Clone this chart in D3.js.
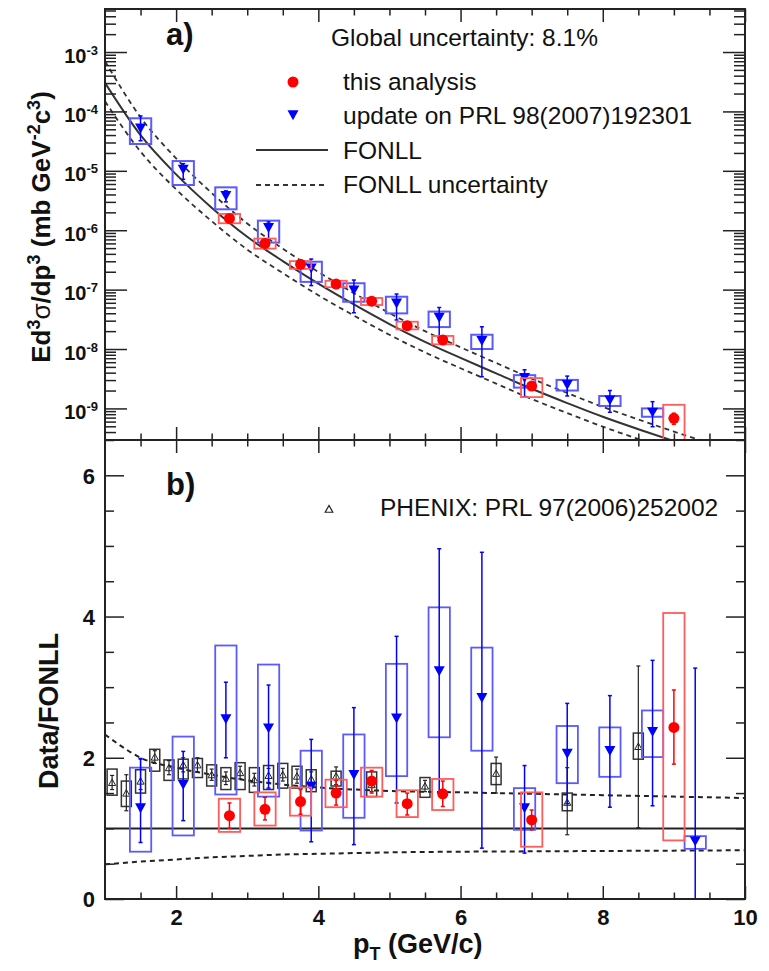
<!DOCTYPE html>
<html>
<head>
<meta charset="utf-8">
<script src="https://cdnjs.cloudflare.com/ajax/libs/d3/7.8.5/d3.min.js"></script>
<style>
	body { margin: 0; background: #fff; }
	svg { display: block; font-family: "Liberation Sans", Arial, Helvetica, sans-serif; }
</style>
</head>
<body>
<svg id="chart" width="769" height="971"></svg>
<script>

//=================== DATA ====================================
// FONLL curve, panel a)
var fonllPt      = [1, 1.5, 2, 2.5, 3, 3.5, 4, 4.5, 5, 5.5, 6, 6.5, 7, 7.5, 8, 8.5, 9, 9.5, 10];
var fonllCentral = [3.02e-4, 3.98e-5, 8.71e-6, 2.40e-6, 7.76e-7, 3.02e-7, 1.26e-7, 5.62e-8, 2.63e-8, 1.32e-8,
                    7.08e-9, 3.89e-9, 2.14e-9, 1.23e-9, 7.24e-10, 4.47e-10, 2.82e-10, 1.82e-10, 1.20e-10];
var fonllUpper   = [7.03e-4, 7.96e-5, 1.62e-5, 4.23e-6, 1.30e-6, 4.90e-7, 1.99e-7, 8.71e-8, 4.03e-8, 2.00e-8,
                    1.07e-8, 5.83e-9, 3.18e-9, 1.82e-9, 1.06e-9, 6.52e-10, 4.08e-10, 2.62e-10, 1.72e-10];
var fonllLower   = [1.48e-4, 2.11e-5, 4.88e-6, 1.42e-6, 4.73e-7, 1.90e-7, 8.05e-8, 3.66e-8, 1.74e-8, 8.77e-9,
                    4.74e-9, 2.62e-9, 1.44e-9, 8.34e-10, 4.93e-10, 3.05e-10, 1.93e-10, 1.25e-10, 8.2e-11];

// FONLL uncertainty band divided by FONLL, panel b)
var ratioPt    = [1, 1.25, 1.5, 2, 2.5, 3, 3.5, 4, 5, 6, 7, 8, 9, 10];
var ratioUpper = [2.33, 2.15, 2.0, 1.86, 1.76, 1.68, 1.62, 1.58, 1.53, 1.51, 1.49, 1.47, 1.45, 1.43];
var ratioLower = [0.49, 0.51, 0.53, 0.56, 0.59, 0.61, 0.63, 0.64, 0.66, 0.67, 0.675, 0.68, 0.685, 0.69];

// this analysis (red)
var redPt       = [2.75, 3.25, 3.75, 4.25, 4.75, 5.25, 5.75, 7.0, 9.0];
var redVal      = [1.58e-6, 6.0e-7, 2.67e-7, 1.24e-7, 6.4e-8, 2.47e-8, 1.42e-8, 2.38e-9, 6.8e-10];
var redSysLo    = [1.31e-6, 4.9e-7, 2.24e-7, 1.10e-7, 5.5e-8, 2.14e-8, 1.20e-8, 1.55e-9, 2.3e-10];
var redSysHi    = [1.88e-6, 7.24e-7, 3.02e-7, 1.41e-7, 7.24e-8, 2.88e-8, 1.66e-8, 3.24e-9, 1.15e-9];
var redStatLo   = [1.34e-6, 5.3e-7, 2.32e-7, 1.10e-7, 5.8e-8, 2.17e-8, 1.25e-8, 2.08e-9, 5.4e-10];
var redStatHi   = [1.82e-6, 6.8e-7, 2.99e-7, 1.39e-7, 7.0e-8, 2.74e-8, 1.59e-8, 2.68e-9, 8.3e-10];
var redRatio       = [1.18, 1.27, 1.38, 1.50, 1.67, 1.35, 1.49, 1.12, 2.43];
var redRatioSysLo  = [0.95, 1.04, 1.18, 1.30, 1.45, 1.16, 1.26, 0.74, 0.83];
var redRatioSysHi  = [1.42, 1.51, 1.58, 1.69, 1.86, 1.54, 1.70, 1.51, 4.05];
var redRatioStatLo = [1.00, 1.12, 1.20, 1.33, 1.50, 1.19, 1.31, 0.98, 1.91];
var redRatioStatHi = [1.36, 1.44, 1.55, 1.68, 1.82, 1.50, 1.67, 1.26, 2.96];

// update on PRL 98(2007)192301 (blue)
var bluePt      = [1.5, 2.1, 2.7, 3.3, 3.9, 4.5, 5.1, 5.7, 6.3, 6.9, 7.5, 8.1, 8.7];
var blueVal     = [5.2e-5, 1.06e-5, 3.8e-6, 1.1e-6, 2.3e-7, 9.8e-8, 5.9e-8, 3.4e-8, 1.38e-8, 3.3e-9, 2.5e-9, 1.38e-9, 8.6e-10];
var blueSysLo   = [2.83e-5, 5.77e-6, 2.25e-6, 6.2e-7, 1.35e-7, 6.25e-8, 3.98e-8, 2.34e-8, 1.0e-8, 2.24e-9, 2.0e-9, 1.10e-9, 7.24e-10];
var blueSysHi   = [7.66e-5, 1.46e-5, 5.27e-6, 1.45e-6, 2.95e-7, 1.28e-7, 7.59e-8, 4.27e-8, 1.74e-8, 3.63e-9, 3.02e-9, 1.62e-9, 1.0e-9];
var blueStatLo  = [3.21e-5, 7.2e-6, 3.0e-6, 7.1e-7, 1.17e-7, 4.08e-8, 3.08e-8, 1.57e-8, 3.41e-9, 1.55e-9, 1.62e-9, 8.6e-10, 4.92e-10];
var blueStatHi  = [8.38e-5, 1.32e-5, 4.6e-6, 1.38e-6, 3.27e-7, 1.45e-7, 8.43e-8, 5.0e-8, 2.37e-8, 4.47e-9, 3.5e-9, 2.0e-9, 1.30e-9];
var blueRatioPt     = [1.5, 2.1, 2.7, 3.3, 3.9, 4.5, 5.1, 5.7, 6.3, 6.9, 7.5, 8.1, 8.7, 9.3];
var blueRatio       = [1.29, 1.62, 2.55, 2.42, 1.59, 1.76, 2.56, 3.23, 2.85, 1.29, 2.06, 2.10, 2.37, 0.82];
var blueRatioSysLo  = [0.67, 0.90, 1.48, 1.45, 0.97, 1.15, 1.74, 2.29, 2.10, 0.98, 1.64, 1.73, 2.01, 0.71];
var blueRatioSysHi  = [1.86, 2.30, 3.59, 3.32, 2.10, 2.33, 3.33, 4.13, 3.56, 1.57, 2.45, 2.43, 2.67, 0.89];
var blueRatioStatLo = [0.80, 1.11, 2.00, 1.57, 0.81, 0.77, 1.36, 1.50, 0.72, 0.65, 1.35, 1.30, 1.32, -1.6];
var blueRatioStatHi = [1.99, 2.09, 3.07, 3.03, 2.26, 2.71, 3.72, 4.96, 4.91, 1.89, 2.77, 2.88, 3.38, 3.27];

// PHENIX: PRL 97(2006)252002 (black, ratio only)
var phenixPt     = [1.1, 1.3, 1.5, 1.7, 1.9, 2.1, 2.3, 2.5, 2.7, 2.9, 3.1, 3.3, 3.5, 3.7, 3.9, 4.25, 4.75, 5.5, 6.5, 7.5, 8.5];
var phenixVal    = [1.65, 1.50, 1.67, 2.01, 1.86, 1.90, 1.90, 1.76, 1.71, 1.79, 1.69, 1.75, 1.76, 1.74, 1.70, 1.74, 1.62, 1.60, 1.78, 1.37, 2.16];
var phenixSysLo  = [1.47, 1.31, 1.50, 1.81, 1.68, 1.70, 1.72, 1.60, 1.55, 1.55, 1.51, 1.55, 1.57, 1.57, 1.52, 1.60, 1.45, 1.44, 1.62, 1.25, 1.98];
var phenixSysHi  = [1.84, 1.67, 1.83, 2.12, 1.97, 1.98, 1.99, 1.90, 1.86, 1.93, 1.86, 1.89, 1.92, 1.88, 1.83, 1.81, 1.80, 1.72, 1.92, 1.50, 2.35];
var phenixStatLo = [1.55, 1.25, 1.55, 1.92, 1.76, 1.80, 1.80, 1.68, 1.62, 1.70, 1.60, 1.65, 1.67, 1.64, 1.60, 1.62, 1.52, 1.52, 1.50, 0.91, 1.01];
var phenixStatHi = [1.75, 1.76, 1.98, 2.10, 1.96, 2.00, 2.00, 1.84, 1.80, 1.88, 1.78, 1.85, 1.85, 1.84, 1.80, 1.87, 1.72, 1.68, 2.01, 1.86, 3.30];

// axis ticks
var xMajorTicks = [2, 4, 6, 8, 10];
var yRatioMajorTicks = [0, 2, 4, 6];
var logDecades = [1e-3, 1e-4, 1e-5, 1e-6, 1e-7, 1e-8, 1e-9];

//=================== LAYOUT ====================================
var plotLeft = 105, plotRight = 745;
var topPanel = { top: 9, bottom: 440 };
var botPanel = { top: 440, bottom: 899 };

var blueColour = "#0000ff", blueBox = "#5a5aff";
var redColour = "#ff0000", redBox = "#ff5c5c";
var frameColour = "#222";

var svg = d3.select("#chart");

var x = d3.scaleLinear().domain([1, 10]).range([plotLeft, plotRight]);
var yTop = d3.scaleLog().domain([2.94e-10, 5.3e-3]).range([topPanel.bottom, topPanel.top]);
var yBot = d3.scaleLinear().domain([0, 6.5]).range([botPanel.bottom, botPanel.top]);

var defs = svg.append("defs");
defs.append("clipPath").attr("id", "clipTop").append("rect")
	.attr("x", plotLeft).attr("y", topPanel.top)
	.attr("width", plotRight - plotLeft).attr("height", topPanel.bottom - topPanel.top);
defs.append("clipPath").attr("id", "clipBot").append("rect")
	.attr("x", plotLeft).attr("y", botPanel.top)
	.attr("width", plotRight - plotLeft).attr("height", botPanel.bottom - botPanel.top);

//=================== HELPERS ====================================
function rows(pt, val, sLo, sHi, eLo, eHi) {
	return pt.map(function (p, i) {
		return { pt: p, val: val[i], sysLo: sLo[i], sysHi: sHi[i], statLo: eLo[i], statHi: eHi[i] };
	});
}

function triDown(cx, cy, s) {
	return "M" + (cx - s) + "," + (cy - s * 0.85) + "L" + (cx + s) + "," + (cy - s * 0.85) +
		"L" + cx + "," + (cy + s * 0.95) + "Z";
}
function triUp(cx, cy, s) {
	return "M" + (cx - s) + "," + (cy + s * 0.85) + "L" + (cx + s) + "," + (cy + s * 0.85) +
		"L" + cx + "," + (cy - s * 0.95) + "Z";
}

function drawBoxes(g, data, yScale, halfWidth, colour, width) {
	g.selectAll(null)
		.data(data)
		.enter()
		.append("rect")
		.attr("x", function (d) { return x(d.pt - halfWidth); })
		.attr("width", function (d) { return x(d.pt + halfWidth) - x(d.pt - halfWidth); })
		.attr("y", function (d) { return yScale(d.sysHi); })
		.attr("height", function (d) { return yScale(d.sysLo) - yScale(d.sysHi); })
		.attr("fill", "none")
		.attr("stroke", colour)
		.attr("stroke-width", width);
}

function drawErrors(g, data, yScale, colour, width) {
	var sel = g.selectAll(null).data(data).enter().append("g");
	sel.append("line")
		.attr("x1", function (d) { return x(d.pt); })
		.attr("x2", function (d) { return x(d.pt); })
		.attr("y1", function (d) { return yScale(d.statLo); })
		.attr("y2", function (d) { return yScale(d.statHi); });
	sel.append("line")
		.attr("x1", function (d) { return x(d.pt) - 2; })
		.attr("x2", function (d) { return x(d.pt) + 2; })
		.attr("y1", function (d) { return yScale(d.statLo); })
		.attr("y2", function (d) { return yScale(d.statLo); });
	sel.append("line")
		.attr("x1", function (d) { return x(d.pt) - 2; })
		.attr("x2", function (d) { return x(d.pt) + 2; })
		.attr("y1", function (d) { return yScale(d.statHi); })
		.attr("y2", function (d) { return yScale(d.statHi); });
	sel.selectAll("line").attr("stroke", colour).attr("stroke-width", width);
}

function drawCircles(g, data, yScale) {
	g.selectAll(null)
		.data(data)
		.enter()
		.append("circle")
		.attr("cx", function (d) { return x(d.pt); })
		.attr("cy", function (d) { return yScale(d.val); })
		.attr("r", 5.5)
		.attr("fill", redColour);
}

function drawTriangles(g, data, yScale) {
	g.selectAll(null)
		.data(data)
		.enter()
		.append("path")
		.attr("d", function (d) { return triDown(x(d.pt), yScale(d.val), 5.5); })
		.attr("fill", blueColour);
}

function tickAxis(g, axisFn, scale, values, size, labelled) {
	var ax = axisFn(scale).tickValues(values).tickSizeInner(-size).tickSizeOuter(0).tickPadding(8);
	if (!labelled) ax.tickFormat("");
	else ax.tickFormat(d3.format("d"));
	g.call(ax);
	g.select(".domain").remove();
	g.selectAll(".tick line").attr("stroke", frameColour).attr("stroke-width", 1.5);
	g.selectAll(".tick text")
		.attr("fill", "#111")
		.attr("font-family", "Liberation Sans, Arial, sans-serif")
		.attr("font-weight", "bold");
	return g;
}

function minorLinear(lo, hi, step, majors) {
	return d3.range(lo, hi + 1e-9, step).filter(function (v) {
		return majors.indexOf(Math.round(v * 100) / 100) < 0;
	});
}

//=================== PANEL a) ====================================
var gTop = svg.append("g").attr("class", "panelTop");
var gTopData = gTop.append("g").attr("clip-path", "url(#clipTop)");

var curveLine = d3.line()
	.x(function (d) { return x(d[0]); })
	.y(function (d) { return yTop(d[1]); })
	.curve(d3.curveMonotoneX);

gTopData.append("path")
	.datum(fonllPt.map(function (p, i) { return [p, fonllUpper[i]]; }))
	.attr("d", curveLine)
	.attr("fill", "none").attr("stroke", "#333").attr("stroke-width", 1.8).attr("stroke-dasharray", "5,4");
gTopData.append("path")
	.datum(fonllPt.map(function (p, i) { return [p, fonllLower[i]]; }))
	.attr("d", curveLine)
	.attr("fill", "none").attr("stroke", "#333").attr("stroke-width", 1.8).attr("stroke-dasharray", "5,4");
gTopData.append("path")
	.datum(fonllPt.map(function (p, i) { return [p, fonllCentral[i]]; }))
	.attr("d", curveLine)
	.attr("fill", "none").attr("stroke", "#333").attr("stroke-width", 2);

var blueTop = rows(bluePt, blueVal, blueSysLo, blueSysHi, blueStatLo, blueStatHi);
var redTop = rows(redPt, redVal, redSysLo, redSysHi, redStatLo, redStatHi);

drawBoxes(gTopData, blueTop, yTop, 0.15, blueBox, 2);
drawErrors(gTopData, blueTop, yTop, blueColour, 1.5);
drawTriangles(gTopData, blueTop, yTop);
drawBoxes(gTopData, redTop, yTop, 0.15, redBox, 1.8);
drawErrors(gTopData, redTop, yTop, redColour, 1.5);
drawCircles(gTopData, redTop, yTop);

// log axis ticks
var logMinor = [];
logDecades.concat([1e-10]).forEach(function (dec) {
	for (var k = 2; k <= 9; k++) {
		var v = dec * k;
		if (v > yTop.domain()[0] && v < yTop.domain()[1]) logMinor.push(v);
	}
});

var gTopLeft = gTop.append("g").attr("transform", "translate(" + plotLeft + ",0)");
tickAxis(gTopLeft, d3.axisLeft, yTop, logDecades, 22, true);
gTopLeft.selectAll(".tick text")
	.text(null)
	.attr("x", -7)
	.attr("dy", null)
	.attr("y", 10)
	.attr("font-size", 20)
	.each(function (d) {
		var t = d3.select(this);
		t.append("tspan").text("10");
		t.append("tspan").attr("dy", -8).attr("font-size", 13).text(Math.round(Math.log10(d)));
	});
tickAxis(gTop.append("g").attr("transform", "translate(" + plotLeft + ",0)"), d3.axisLeft, yTop, logMinor, 11, false);
tickAxis(gTop.append("g").attr("transform", "translate(" + plotRight + ",0)"), d3.axisRight, yTop, logDecades, 22, false);
tickAxis(gTop.append("g").attr("transform", "translate(" + plotRight + ",0)"), d3.axisRight, yTop, logMinor, 11, false);

var xMinorTicks = minorLinear(1.5, 9.5, 0.5, xMajorTicks);
tickAxis(gTop.append("g").attr("transform", "translate(0," + topPanel.top + ")"), d3.axisTop, x, xMajorTicks, 13, false);
tickAxis(gTop.append("g").attr("transform", "translate(0," + topPanel.top + ")"), d3.axisTop, x, xMinorTicks, 6.5, false);
tickAxis(gTop.append("g").attr("transform", "translate(0," + topPanel.bottom + ")"), d3.axisBottom, x, xMajorTicks, 13, false);
tickAxis(gTop.append("g").attr("transform", "translate(0," + topPanel.bottom + ")"), d3.axisBottom, x, xMinorTicks, 6.5, false);

gTop.append("rect")
	.attr("x", plotLeft).attr("y", topPanel.top)
	.attr("width", plotRight - plotLeft).attr("height", topPanel.bottom - topPanel.top)
	.attr("fill", "none").attr("stroke", frameColour).attr("stroke-width", 2);

// y title
var yTitleTop = gTop.append("text")
	.attr("transform", "translate(50,227) rotate(-90)")
	.attr("text-anchor", "middle")
	.attr("font-size", 26)
	.attr("font-weight", "bold")
	.attr("fill", "#111");
yTitleTop.append("tspan").text("Ed");
yTitleTop.append("tspan").attr("dy", -10).attr("font-size", 18).text("3");
yTitleTop.append("tspan").attr("dy", 10).attr("font-weight", "normal").text("\u03c3");
yTitleTop.append("tspan").text("/dp");
yTitleTop.append("tspan").attr("dy", -10).attr("font-size", 18).text("3");
yTitleTop.append("tspan").attr("dy", 10).text(" (mb GeV");
yTitleTop.append("tspan").attr("dy", -10).attr("font-size", 18).text("-2");
yTitleTop.append("tspan").attr("dy", 10).text("c");
yTitleTop.append("tspan").attr("dy", -10).attr("font-size", 18).text("3");
yTitleTop.append("tspan").attr("dy", 10).text(")");

gTop.append("text")
	.attr("x", 166).attr("y", 45)
	.attr("font-size", 31).attr("font-weight", "bold").attr("fill", "#111")
	.text("a)");

// legend
var legendTop = gTop.append("g").attr("font-size", 24.5).attr("fill", "#111");
legendTop.append("text").attr("x", 331).attr("y", 46).text("Global uncertainty: 8.1%");
legendTop.append("circle").attr("cx", 293).attr("cy", 82).attr("r", 5.5).attr("fill", redColour);
legendTop.append("text").attr("x", 343).attr("y", 90).text("this analysis");
legendTop.append("path").attr("d", triDown(293, 115, 5.5)).attr("fill", blueColour);
legendTop.append("text").attr("x", 343).attr("y", 124).text("update on PRL 98(2007)192301");
legendTop.append("line").attr("x1", 256).attr("x2", 328).attr("y1", 150).attr("y2", 150)
	.attr("stroke", "#333").attr("stroke-width", 2);
legendTop.append("text").attr("x", 343).attr("y", 159).text("FONLL");
legendTop.append("line").attr("x1", 256).attr("x2", 328).attr("y1", 185).attr("y2", 185)
	.attr("stroke", "#333").attr("stroke-width", 1.8).attr("stroke-dasharray", "5,4");
legendTop.append("text").attr("x", 343).attr("y", 193).text("FONLL uncertainty");

//=================== PANEL b) ====================================
var gBot = svg.append("g").attr("class", "panelBot");
var gBotData = gBot.append("g").attr("clip-path", "url(#clipBot)");

var ratioLine = d3.line()
	.x(function (d) { return x(d[0]); })
	.y(function (d) { return yBot(d[1]); })
	.curve(d3.curveMonotoneX);

gBotData.append("path")
	.datum(ratioPt.map(function (p, i) { return [p, ratioUpper[i]]; }))
	.attr("d", ratioLine)
	.attr("fill", "none").attr("stroke", "#222").attr("stroke-width", 2).attr("stroke-dasharray", "5,4");
gBotData.append("path")
	.datum(ratioPt.map(function (p, i) { return [p, ratioLower[i]]; }))
	.attr("d", ratioLine)
	.attr("fill", "none").attr("stroke", "#222").attr("stroke-width", 2).attr("stroke-dasharray", "5,4");
gBotData.append("line")
	.attr("x1", x(1)).attr("x2", x(10)).attr("y1", yBot(1)).attr("y2", yBot(1))
	.attr("stroke", "#222").attr("stroke-width", 2);

var phenixRows = rows(phenixPt, phenixVal, phenixSysLo, phenixSysHi, phenixStatLo, phenixStatHi);
var blueBot = rows(blueRatioPt, blueRatio, blueRatioSysLo, blueRatioSysHi, blueRatioStatLo, blueRatioStatHi);
var redBot = rows(redPt, redRatio, redRatioSysLo, redRatioSysHi, redRatioStatLo, redRatioStatHi);

drawBoxes(gBotData, phenixRows, yBot, 0.07, "#333", 1.5);
drawErrors(gBotData, phenixRows, yBot, "#222", 1.2);
gBotData.selectAll(null)
	.data(phenixRows)
	.enter()
	.append("path")
	.attr("d", function (d) { return triUp(x(d.pt), yBot(d.val), 3.6); })
	.attr("fill", "none").attr("stroke", "#222").attr("stroke-width", 1);

drawBoxes(gBotData, blueBot, yBot, 0.15, blueBox, 1.8);
drawErrors(gBotData, blueBot, yBot, blueColour, 1.5);
drawTriangles(gBotData, blueBot, yBot);
drawBoxes(gBotData, redBot, yBot, 0.15, redBox, 1.8);
drawErrors(gBotData, redBot, yBot, redColour, 1.5);
drawCircles(gBotData, redBot, yBot);

// axes
var yMinorTicks = minorLinear(0.5, 6.5, 0.5, yRatioMajorTicks);
tickAxis(gBot.append("g").attr("transform", "translate(" + plotLeft + ",0)"), d3.axisLeft, yBot, yRatioMajorTicks, 19, true)
	.selectAll(".tick text").attr("font-size", 22).attr("x", -10).attr("dy", "0.36em");
tickAxis(gBot.append("g").attr("transform", "translate(" + plotLeft + ",0)"), d3.axisLeft, yBot, yMinorTicks, 9, false);
tickAxis(gBot.append("g").attr("transform", "translate(" + plotRight + ",0)"), d3.axisRight, yBot, yRatioMajorTicks, 19, false);
tickAxis(gBot.append("g").attr("transform", "translate(" + plotRight + ",0)"), d3.axisRight, yBot, yMinorTicks, 9, false);

tickAxis(gBot.append("g").attr("transform", "translate(0," + botPanel.bottom + ")"), d3.axisBottom, x, xMajorTicks, 13, true)
	.selectAll(".tick text").attr("font-size", 22).attr("y", 10).attr("dy", "0.71em");
tickAxis(gBot.append("g").attr("transform", "translate(0," + botPanel.bottom + ")"), d3.axisBottom, x, xMinorTicks, 6.5, false);
tickAxis(gBot.append("g").attr("transform", "translate(0," + botPanel.top + ")"), d3.axisTop, x, xMajorTicks, 13, false);
tickAxis(gBot.append("g").attr("transform", "translate(0," + botPanel.top + ")"), d3.axisTop, x, xMinorTicks, 6.5, false);

gBot.append("rect")
	.attr("x", plotLeft).attr("y", botPanel.top)
	.attr("width", plotRight - plotLeft).attr("height", botPanel.bottom - botPanel.top)
	.attr("fill", "none").attr("stroke", frameColour).attr("stroke-width", 2);

gBot.append("text")
	.attr("transform", "translate(58,711) rotate(-90)")
	.attr("text-anchor", "middle")
	.attr("font-size", 27).attr("font-weight", "bold").attr("fill", "#111")
	.text("Data/FONLL");

var xTitle = gBot.append("text")
	.attr("x", 353).attr("y", 953)
	.attr("font-size", 27).attr("font-weight", "bold").attr("fill", "#111");
xTitle.append("tspan").text("p");
xTitle.append("tspan").attr("dy", 7).attr("font-size", 18).text("T");
xTitle.append("tspan").attr("dy", -7).text(" (GeV/c)");

gBot.append("text")
	.attr("x", 166).attr("y", 495)
	.attr("font-size", 31).attr("font-weight", "bold").attr("fill", "#111")
	.text("b)");

gBot.append("path").attr("d", triUp(329, 509, 3.8))
	.attr("fill", "none").attr("stroke", "#222").attr("stroke-width", 1.2);
gBot.append("text")
	.attr("x", 380).attr("y", 516)
	.attr("font-size", 24.5).attr("fill", "#111")
	.text("PHENIX: PRL 97(2006)252002");

</script>
</body>
</html>
